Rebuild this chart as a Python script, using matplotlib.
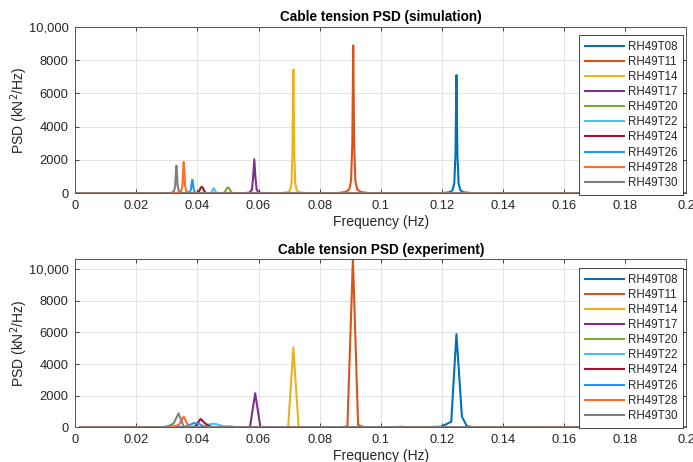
import matplotlib
matplotlib.use('Agg')
import matplotlib.pyplot as plt
import numpy as np
from matplotlib.ticker import FuncFormatter, FormatStrFormatter

plt.rcParams['font.family'] = ['Liberation Sans', 'DejaVu Sans']
plt.rcParams['font.size'] = 10

labels = ['RH49T08', 'RH49T11', 'RH49T14', 'RH49T17', 'RH49T20',
          'RH49T22', 'RH49T24', 'RH49T26', 'RH49T28', 'RH49T30']
colors = ['#0072BD', '#D95319', '#EDB120', '#7E2F8E', '#77AC30',
          '#4DBEEE', '#A2142F', '#1F97F5', '#FF6B2B', '#7F7F7F']

# ---- simulation spectra (Hz, kN^2/Hz) ----
sim_T08_f = [0.0, 0.1200, 0.1225, 0.1235, 0.1241, 0.1245, 0.1248, 0.1251, 0.1255, 0.1261, 0.1271, 0.1300, 0.2]
sim_T08_p = [0, 10, 60, 180, 600, 2400, 7100, 2400, 600, 180, 60, 10, 0]
sim_T11_f = [0.0, 0.0860, 0.0885, 0.0897, 0.0903, 0.0907, 0.0910, 0.0913, 0.0917, 0.0923, 0.0935, 0.0960, 0.2]
sim_T11_p = [0, 15, 80, 240, 750, 3000, 8880, 3000, 750, 240, 80, 15, 0]
sim_T14_f = [0.0, 0.0670, 0.0695, 0.0703, 0.0708, 0.0711, 0.0714, 0.0717, 0.0720, 0.0725, 0.0733, 0.0760, 0.2]
sim_T14_p = [0, 10, 60, 180, 600, 2500, 7440, 2500, 600, 180, 60, 10, 0]
sim_T17_f = [0.0, 0.0550, 0.0570, 0.0578, 0.0582, 0.0586, 0.0590, 0.0594, 0.0602, 0.0620, 0.2]
sim_T17_p = [0, 5, 40, 200, 900, 2040, 900, 200, 40, 5, 0]
sim_T20_f = [0.0, 0.0480, 0.0488, 0.0493, 0.0497, 0.0500, 0.0503, 0.0507, 0.0512, 0.0520, 0.2]
sim_T20_p = [0, 5, 40, 190, 320, 350, 320, 190, 40, 5, 0]
sim_T22_f = [0.0, 0.0438, 0.0446, 0.0450, 0.0453, 0.0456, 0.0460, 0.0468, 0.2]
sim_T22_p = [0, 5, 60, 220, 310, 220, 60, 5, 0]
sim_T24_f = [0.0, 0.0395, 0.0403, 0.0408, 0.0411, 0.0414, 0.0417, 0.0420, 0.0425, 0.0433, 0.2]
sim_T24_p = [0, 5, 50, 220, 350, 380, 350, 220, 50, 5, 0]
sim_T26_f = [0.0, 0.0365, 0.0374, 0.0378, 0.0381, 0.0383, 0.0385, 0.0388, 0.0392, 0.0401, 0.2]
sim_T26_p = [0, 5, 50, 200, 600, 810, 600, 200, 50, 5, 0]
sim_T28_f = [0.0, 0.0320, 0.0340, 0.0347, 0.0351, 0.0353, 0.0355, 0.0357, 0.0359, 0.0363, 0.0370, 0.0390, 0.2]
sim_T28_p = [0, 10, 40, 150, 500, 1300, 1880, 1300, 500, 150, 40, 5, 0]
sim_T30_f = [0.0, 0.0300, 0.0317, 0.0323, 0.0327, 0.0329, 0.0331, 0.0333, 0.0335, 0.0339, 0.0345, 0.0362, 0.2]
sim_T30_p = [0, 5, 30, 130, 450, 1150, 1660, 1150, 450, 130, 30, 5, 0]

# ---- experiment spectra (coarser frequency bins) ----
exp_T08_f = [0.0016, 0.1150, 0.1198, 0.1214, 0.1231, 0.1248, 0.1266, 0.1282, 0.1299, 0.1350, 0.2]
exp_T08_p = [0, 10, 40, 190, 350, 5900, 670, 80, 20, 5, 0]
exp_T11_f = [0.0016, 0.0858, 0.0875, 0.0891, 0.0909, 0.0926, 0.0942, 0.0960, 0.1050, 0.1066, 0.1082, 0.1790, 0.1810, 0.1830, 0.2]
exp_T11_p = [0, 5, 20, 60, 10650, 150, 30, 5, 5, 40, 5, 5, 30, 5, 0]
exp_T14_f = [0.0016, 0.0665, 0.0681, 0.0697, 0.0714, 0.0731, 0.0747, 0.0763, 0.2]
exp_T14_p = [0, 5, 10, 40, 5050, 40, 10, 5, 0]
exp_T17_f = [0.0016, 0.0540, 0.0556, 0.0572, 0.0589, 0.0606, 0.0622, 0.2]
exp_T17_p = [0, 5, 10, 30, 2150, 30, 5, 0]
exp_T20_f = [0.0016, 0.0475, 0.0492, 0.0508, 0.0524, 0.2]
exp_T20_p = [0, 0, 50, 60, 10, 0]
exp_T22_f = [0.0016, 0.0410, 0.0426, 0.0443, 0.0459, 0.0475, 0.0492, 0.0508, 0.2]
exp_T22_p = [0, 0, 80, 210, 220, 120, 20, 0, 0]
exp_T24_f = [0.0016, 0.0377, 0.0393, 0.0410, 0.0426, 0.0443, 0.0459, 0.2]
exp_T24_p = [0, 0, 60, 530, 230, 40, 0, 0]
exp_T26_f = [0.0016, 0.0355, 0.0371, 0.0388, 0.0404, 0.0420, 0.0437, 0.2]
exp_T26_p = [0, 0, 120, 270, 230, 60, 10, 0]
exp_T28_f = [0.0016, 0.0290, 0.0306, 0.0322, 0.0339, 0.0355, 0.0371, 0.0388, 0.2]
exp_T28_p = [0, 5, 20, 60, 150, 680, 30, 5, 0]
exp_T30_f = [0.0016, 0.0273, 0.0289, 0.0306, 0.0322, 0.0338, 0.0355, 0.0371, 0.2]
exp_T30_p = [0, 5, 20, 80, 250, 880, 40, 10, 0]

sim_f = [sim_T08_f, sim_T11_f, sim_T14_f, sim_T17_f, sim_T20_f,
         sim_T22_f, sim_T24_f, sim_T26_f, sim_T28_f, sim_T30_f]
sim_p = [sim_T08_p, sim_T11_p, sim_T14_p, sim_T17_p, sim_T20_p,
         sim_T22_p, sim_T24_p, sim_T26_p, sim_T28_p, sim_T30_p]
exp_f = [exp_T08_f, exp_T11_f, exp_T14_f, exp_T17_f, exp_T20_f,
         exp_T22_f, exp_T24_f, exp_T26_f, exp_T28_f, exp_T30_f]
exp_p = [exp_T08_p, exp_T11_p, exp_T14_p, exp_T17_p, exp_T20_p,
         exp_T22_p, exp_T24_p, exp_T26_p, exp_T28_p, exp_T30_p]

ink = '#262626'

fig = plt.figure(figsize=(6.93, 4.62), dpi=100)
ax1 = fig.add_axes([0.1087, 0.5816, 0.8813, 0.3606])
ax2 = fig.add_axes([0.1087, 0.0751, 0.8813, 0.3636])


def psd_panel(ax, freqs, psds, title, ytop, leg_y):
    for f, p, lab, c in zip(freqs, psds, labels, colors):
        ax.plot(f, p, color=c, lw=1.5, label=lab)
    ax.set_xlim(0, 0.2)
    ax.set_ylim(0, ytop)
    ax.set_xticks(np.arange(0, 0.2001, 0.02))
    ax.set_yticks(np.arange(0, 10001, 2000))
    ax.xaxis.set_major_formatter(FormatStrFormatter('%g'))
    ax.yaxis.set_major_formatter(FuncFormatter(
        lambda v, _: f'{v:,.0f}' if v >= 10000 else f'{v:.0f}'))
    ax.grid(True, color='#e3e3e3', lw=0.7)
    ax.set_axisbelow(True)
    ax.tick_params(direction='in', top=True, right=True, length=3,
                   width=0.6, colors=ink, labelsize=9.3, pad=5)
    for s in ax.spines.values():
        s.set_color('#555555')
        s.set_linewidth(0.7)
    ax.set_title(title, fontsize=9.8, fontweight='bold', color='black', pad=4)
    ax.set_xlabel('Frequency (Hz)', fontsize=10, color=ink, labelpad=2)
    ax.set_ylabel('PSD (kN$^2$/Hz)', fontsize=10, color=ink)
    ax.yaxis.set_label_coords(-0.074, 0.5)
    leg = ax.legend(loc='upper right', bbox_to_anchor=(0.9946, leg_y),
                    borderaxespad=0, fontsize=8.3, handlelength=3.4,
                    handletextpad=0.3, labelspacing=0.27, borderpad=0.5,
                    fancybox=False, framealpha=1, edgecolor=ink)
    leg.get_frame().set_linewidth(0.6)
    for t in leg.get_texts():
        t.set_color(ink)


psd_panel(ax1, sim_f, sim_p, 'Cable tension PSD (simulation)', 10000, 0.950)
psd_panel(ax2, exp_f, exp_p, 'Cable tension PSD (experiment)', 10630, 0.948)

fig.savefig('out.png', dpi=100, facecolor='white')
